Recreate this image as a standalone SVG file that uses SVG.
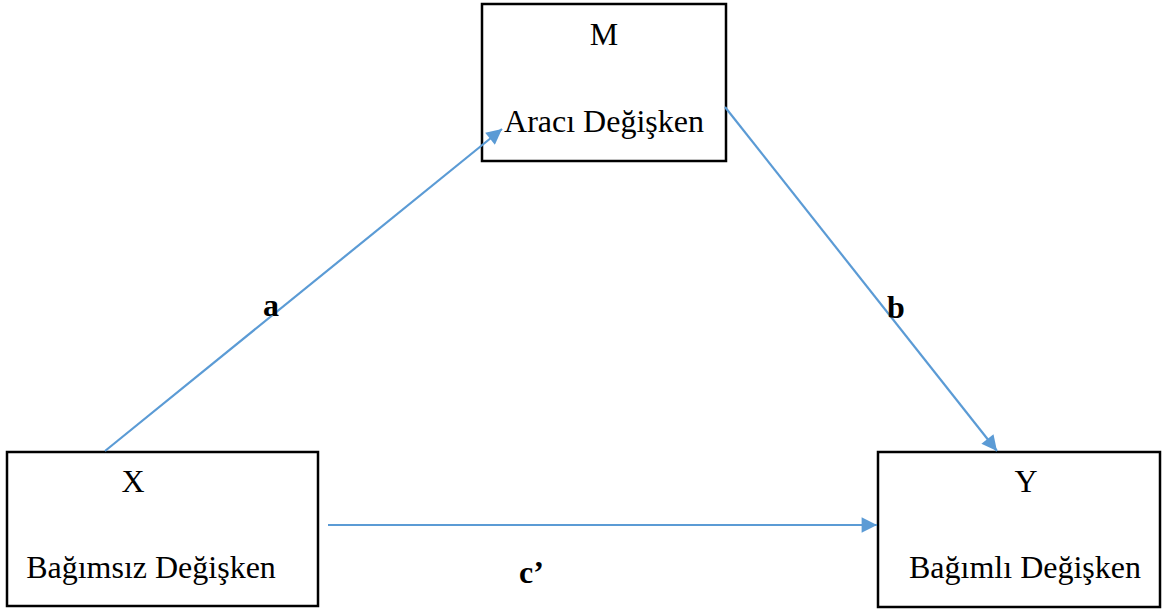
<svg xmlns="http://www.w3.org/2000/svg" width="1162" height="609" viewBox="0 0 1162 609">
<style>
.box{fill:#fff;stroke:#000;stroke-width:2.5}
.t{font-family:"Liberation Serif","Times New Roman",serif;font-size:32px;fill:#000}
.lb{font-family:"Liberation Serif","Times New Roman",serif;font-size:32px;font-weight:bold;fill:#000}
.c{fill:none;stroke:#5B9BD5;stroke-width:2.2;marker-end:url(#ah)}
</style>
<defs>
<marker id="ah" viewBox="0 0 10 10" refX="10" refY="5" markerWidth="8" markerHeight="7" markerUnits="strokeWidth" orient="auto">
<path d="M0,0 L10,5 L0,10 z" fill="#5B9BD5"/>
</marker>
</defs>
<g id="node-M">
<rect class="box" x="482" y="4" width="244" height="157"/>
<text class="t" x="604" y="45" text-anchor="middle">M</text>
<text class="t" x="604" y="132" text-anchor="middle">Aracı Değişken</text>
</g>
<g id="node-X">
<rect class="box" x="7" y="452" width="311" height="154"/>
<text class="t" x="133" y="492" text-anchor="middle">X</text>
<text class="t" x="151" y="578" text-anchor="middle">Bağımsız Değişken</text>
</g>
<g id="node-Y">
<rect class="box" x="878" y="452" width="282" height="155"/>
<text class="t" x="1026" y="492" text-anchor="middle">Y</text>
<text class="t" x="1025" y="578" text-anchor="middle">Bağımlı Değişken</text>
</g>
<g id="connectors">
<line class="c" x1="105" y1="451" x2="502" y2="129"/>
<line class="c" x1="725" y1="107" x2="997" y2="451"/>
<line class="c" x1="328" y1="525" x2="877" y2="525"/>
</g>
<g id="labels">
<text class="lb" x="271" y="316" text-anchor="middle">a</text>
<text class="lb" x="896" y="318" text-anchor="middle">b</text>
<text class="lb" x="519" y="583">c’</text>
</g>
</svg>
